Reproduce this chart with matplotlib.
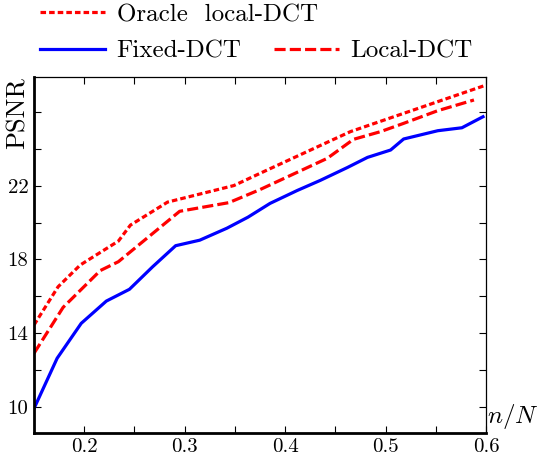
import matplotlib
matplotlib.use("Agg")
import matplotlib.pyplot as plt
from matplotlib.ticker import FixedLocator, NullFormatter

plt.rcParams["font.family"] = ["cmr10", "DejaVu Serif"]
plt.rcParams["mathtext.fontset"] = "cm"
plt.rcParams["axes.formatter.use_mathtext"] = True
plt.rcParams["lines.scale_dashes"] = False

# values (x = n/N, y = PSNR)
fixed_x = [0.15, 0.173, 0.197, 0.222, 0.245, 0.268, 0.291, 0.315, 0.342, 0.363,
           0.385, 0.412, 0.435, 0.462, 0.482, 0.505, 0.518, 0.552, 0.576, 0.597]
fixed_y = [9.9, 12.63, 14.53, 15.74, 16.38, 17.6, 18.75, 19.05, 19.7, 20.3,
           21.05, 21.75, 22.3, 23.0, 23.55, 23.95, 24.55, 25.0, 25.16, 25.76]

local_x = [0.15, 0.179, 0.216, 0.234, 0.295, 0.344, 0.375, 0.442, 0.468,
           0.495, 0.518, 0.552, 0.588]
local_y = [12.9, 15.4, 17.4, 17.88, 20.62, 21.09, 21.8, 23.5, 24.53,
           24.95, 25.4, 26.09, 26.67]

oracle_x = [0.15, 0.174, 0.196, 0.217, 0.234, 0.246, 0.283, 0.349, 0.382, 0.465, 0.6]
oracle_y = [14.44, 16.52, 17.7, 18.42, 19.0, 19.87, 21.12, 22.02, 22.86, 24.95, 27.48]

xmajor = [0.2, 0.3, 0.4, 0.5, 0.6]
xminor = [0.25, 0.35, 0.45, 0.55]
ymajor = [10, 14, 18, 22]
yminor = [12, 16, 20, 24, 26]

fig = plt.figure(figsize=(5.39, 4.58), dpi=100)
ax = fig.add_axes([0.0631, 0.0546, 0.8386, 0.7773])

l_or, = ax.plot(oracle_x, oracle_y, color="red", lw=2.3, dashes=(4.0, 2.2),
                label="Oracle  local-DCT")
l_fx, = ax.plot(fixed_x, fixed_y, color="blue", lw=2.3, label="Fixed-DCT")
l_lo, = ax.plot(local_x, local_y, color="red", lw=2.3, dashes=(8.0, 3.0),
                label="Local-DCT")

ax.set_xlim(0.15, 0.6)
ax.set_ylim(8.57, 27.92)
ax.xaxis.set_major_locator(FixedLocator(xmajor))
ax.xaxis.set_minor_locator(FixedLocator(xminor))
ax.yaxis.set_major_locator(FixedLocator(ymajor))
ax.yaxis.set_minor_locator(FixedLocator(yminor))
ax.xaxis.set_minor_formatter(NullFormatter())
ax.set_xticklabels(["0.2", "0.3", "0.4", "0.5", "0.6"])
ax.set_yticklabels(["10", "14", "18", "22"])
ax.tick_params(which="both", direction="in", length=5, width=0.8,
               top=True, right=True, labelsize=15, pad=4)

for side in ["left", "bottom"]:
    ax.spines[side].set_linewidth(2.0)
for side in ["top", "right"]:
    ax.spines[side].set_linewidth(0.9)

ax.set_ylabel("PSNR", fontsize=19)
ax.yaxis.set_label_coords(-0.009, 0.90)
ax.text(1.002, 0.005, r"$n/N$", transform=ax.transAxes, ha="left", va="bottom",
        fontsize=18)

kw = dict(frameon=False, fontsize=18, handlelength=2.6, handletextpad=0.45,
          borderaxespad=0, borderpad=0)
leg1 = fig.legend(handles=[l_or], loc="upper left",
                  bbox_to_anchor=(0.075, 0.992), **kw)
leg2 = fig.legend(handles=[l_fx, l_lo], loc="upper left", ncol=2,
                  columnspacing=1.3, bbox_to_anchor=(0.075, 0.913), **kw)

fig.savefig("out.png", dpi=100)
